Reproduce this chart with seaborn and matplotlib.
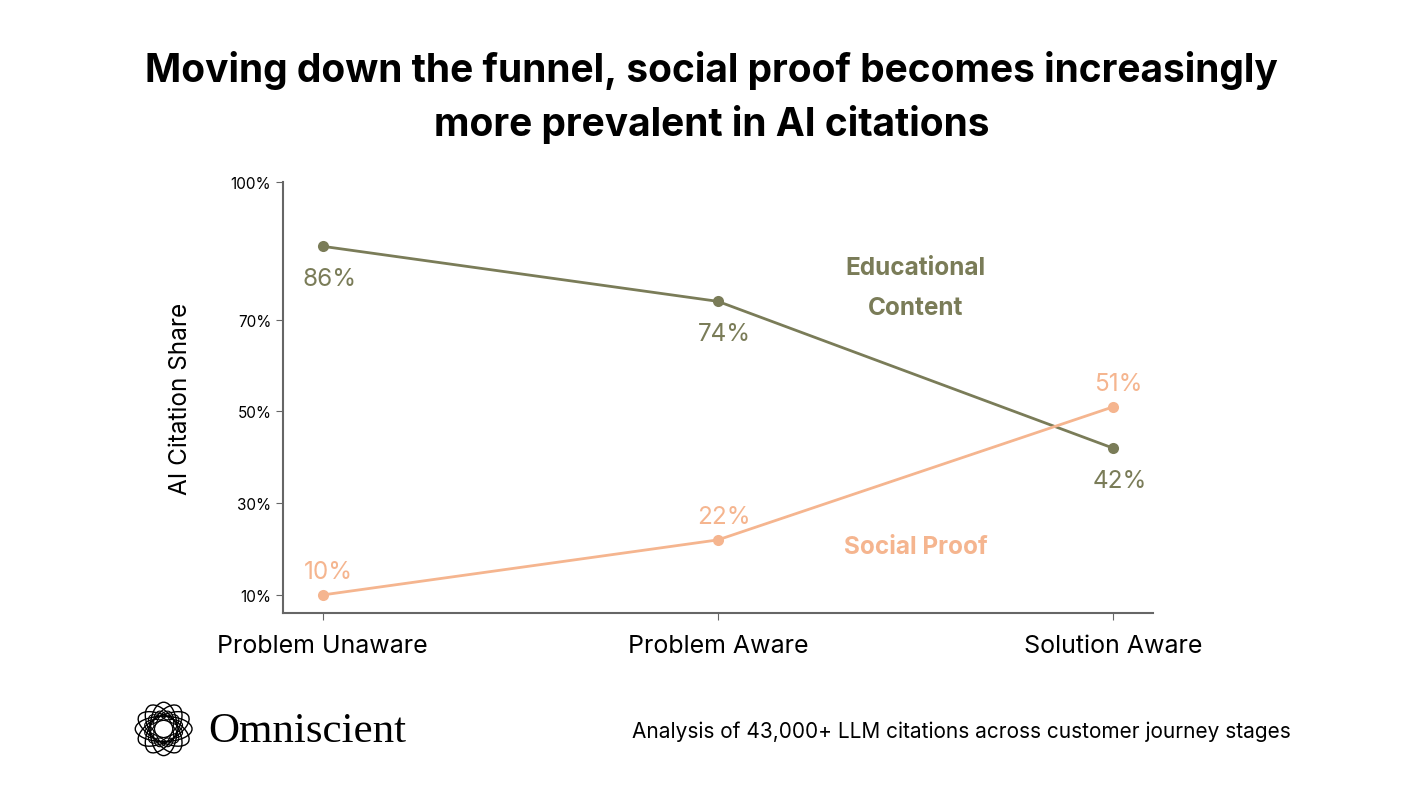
import matplotlib
matplotlib.use('Agg')
import matplotlib.pyplot as plt
import seaborn as sns
import numpy as np
import pandas as pd
from matplotlib.patches import Ellipse

stages = ['Problem Unaware', 'Problem Aware', 'Solution Aware']
educational = [86, 74, 42]
social = [10, 22, 51]
yticks = [10, 30, 50, 70, 100]

olive = '#7a7c58'
peach = '#f5b58f'

sns.set_style('white')
plt.rcParams['font.family'] = ['Inter', 'DejaVu Sans']
plt.rcParams['text.color'] = 'black'
plt.rcParams['axes.labelcolor'] = 'black'
plt.rcParams['xtick.color'] = 'black'
plt.rcParams['ytick.color'] = 'black'

fig = plt.figure(figsize=(14.23, 8.03), dpi=100)
ax = fig.add_axes([0.199, 0.235, 0.611, 0.537])

df = pd.DataFrame({'x': list(range(3)) * 2,
                   'y': educational + social,
                   'series': ['Educational'] * 3 + ['Social'] * 3})
sns.lineplot(data=df, x='x', y='y', hue='series', palette=[olive, peach],
             marker='o', markersize=8, markeredgewidth=0, linewidth=2,
             legend=False, ax=ax)

for i, v in enumerate(educational):
    ax.annotate(f'{v}%', (i, v), xytext=(5, -28), textcoords='offset points',
                ha='center', fontsize=17.5, color=olive)
for i, v in enumerate(social):
    ax.annotate(f'{v}%', (i, v), xytext=(4, 12), textcoords='offset points',
                ha='center', fontsize=17.5, color=peach)

ax.text(1.5, 77, 'Educational\nContent', ha='center', va='center', fontsize=17.5,
        fontweight='bold', color=olive, linespacing=1.9)
ax.text(1.5, 20.5, 'Social Proof', ha='center', va='center', fontsize=17.5,
        fontweight='bold', color=peach)

ax.set_xlim(-0.1, 2.1)
ax.set_ylim(6, 100)
ax.set_xticks(range(3))
ax.set_xticklabels(stages, fontsize=18)
ax.set_yticks(yticks)
ax.set_yticklabels([f'{t}%' for t in yticks], fontsize=11)
ax.tick_params(axis='both', length=5, color='#666666', bottom=True, left=True)
ax.tick_params(axis='x', pad=10)
ax.set_xlabel('')
ax.set_ylabel('AI Citation Share', fontsize=17.5, labelpad=28)
for s in ['top', 'right']:
    ax.spines[s].set_visible(False)
for s in ['left', 'bottom']:
    ax.spines[s].set_color('#666666')
    ax.spines[s].set_linewidth(1.5)

fig.text(0.5, 0.912, 'Moving down the funnel, social proof becomes increasingly',
         ha='center', va='center', fontsize=28, fontweight='bold')
fig.text(0.5, 0.845, 'more prevalent in AI citations',
         ha='center', va='center', fontsize=28, fontweight='bold')

fig.text(0.907, 0.089, 'Analysis of 43,000+ LLM citations across customer journey stages',
         ha='right', va='center', fontsize=15)
fig.text(0.146, 0.089, 'Omniscient', ha='left', va='center', fontsize=31,
         family='Liberation Serif')

# logo
lax = fig.add_axes([0.094, 0.056, 0.042, 0.07])
lax.set_xlim(-1, 1)
lax.set_ylim(-1, 1)
lax.axis('off')
for ang in np.arange(0, 180, 30):
    lax.add_patch(Ellipse((0, 0), 1.9, 0.9, angle=ang, fill=False, lw=1, color='black'))
    lax.add_patch(Ellipse((0, 0), 1.3, 0.6, angle=ang + 15, fill=False, lw=0.8, color='black'))

fig.savefig('out.png', dpi=100)
